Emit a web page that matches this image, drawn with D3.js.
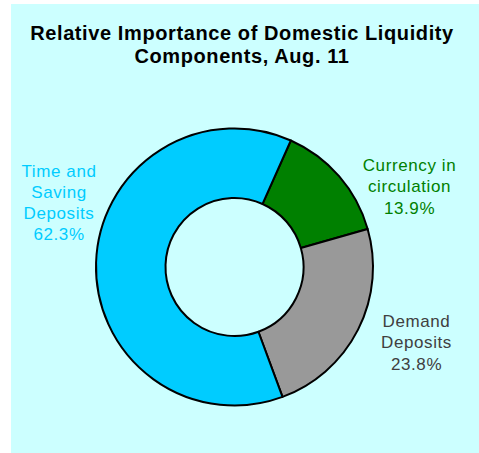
<!DOCTYPE html>
<html>
<head>
<meta charset="utf-8">
<script src="https://cdn.jsdelivr.net/npm/d3@7"></script>
<style>
  html, body { margin: 0; padding: 0; background: #ffffff; }
  svg { display: block; }
  text { font-family: "Liberation Sans", Arial, sans-serif; }
</style>
</head>
<body>
<svg id="chart" width="479" height="453"></svg>
<script>
// Domestic liquidity components, shares in percent
const categories = ["Currency in circulation", "Demand Deposits", "Time and Saving Deposits"];
const shares = [13.9, 23.8, 62.3];
const labelLines = [["Currency in", "circulation"], ["Demand", "Deposits"], ["Time and", "Saving", "Deposits"]];
const sliceColors = ["#008000", "#999999", "#00CCFF"];
const labelColors = ["#008000", "#404040", "#00CCFF"];
const titleLines = ["Relative Importance of Domestic Liquidity", "Components, Aug. 11"];

const W = 479, H = 453;
const svg = d3.select("#chart");

// panel background
svg.append("rect")
  .attr("x", 11).attr("y", 4)
  .attr("width", W - 11).attr("height", H - 4)
  .attr("fill", "#CCFFFF");

// title
svg.append("text")
  .attr("text-anchor", "middle")
  .attr("font-size", 20).attr("font-weight", "bold")
  .attr("letter-spacing", 0.6)
  .attr("fill", "#000")
  .selectAll("tspan").data(titleLines).join("tspan")
  .attr("x", 242)
  .attr("y", (d, i) => 39.5 + i * 23)
  .text(d => d);

// donut
const cx = 234.5, cy = 267, rOuter = 138.5, rInner = 69;
const pie = d3.pie().sort(null).value(d => d)
  .startAngle(24 * Math.PI / 180)
  .endAngle(24 * Math.PI / 180 + 2 * Math.PI);
const arc = d3.arc().innerRadius(rInner).outerRadius(rOuter);

const g = svg.append("g").attr("transform", `translate(${cx},${cy})`);
g.selectAll("path").data(pie(shares)).join("path")
  .attr("d", arc)
  .attr("fill", (d, i) => sliceColors[i])
  .attr("stroke", "#000")
  .attr("stroke-width", 2)
  .attr("stroke-linejoin", "round");

// labels: name lines followed by the share
const labelPos = [[409.5, 171], [416.5, 327], [59, 176.5]];
const lineGap = 21.3;
labelLines.forEach((lines, i) => {
  const all = lines.concat([shares[i].toFixed(1) + "%"]);
  const t = svg.append("text")
    .attr("text-anchor", "middle")
    .attr("font-size", 17)
    .attr("letter-spacing", 0.6)
    .attr("fill", labelColors[i]);
  t.selectAll("tspan").data(all).join("tspan")
    .attr("x", labelPos[i][0])
    .attr("y", (d, j) => labelPos[i][1] + j * lineGap)
    .text(d => d);
});
</script>
</body>
</html>
